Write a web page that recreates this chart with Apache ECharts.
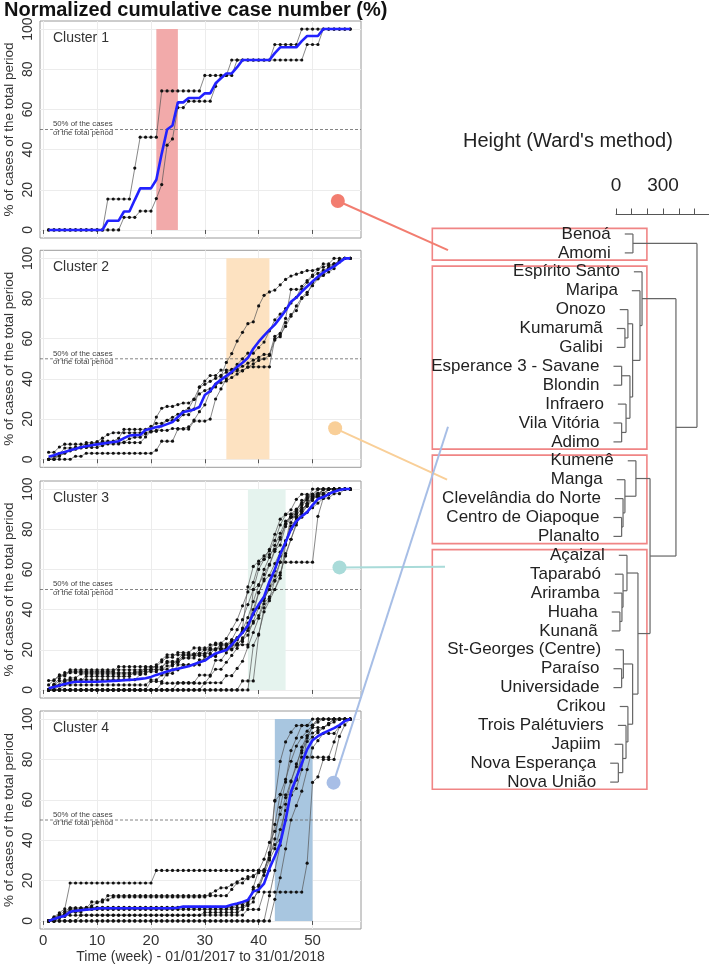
<!DOCTYPE html>
<html><head><meta charset="utf-8">
<script src="https://cdn.jsdelivr.net/npm/echarts@6/dist/echarts.min.js"></script>
<style>html,body{margin:0;padding:0;background:#fff}#c{width:709px;height:965px}</style>
</head><body><div id="c"></div>
<script>
const FONT = "'Liberation Sans', Arial, Helvetica, sans-serif";
const weeks = [1,2,3,4,5,6,7,8,9,10,11,12,13,14,15,16,17,18,19,20,21,22,23,24,25,26,27,28,29,30,31,32,33,34,35,36,37,38,39,40,41,42,43,44,45,46,47,48,49,50,51,52,53,54,55,56,57];
const xTicks = [0,10,20,30,40,50];
const yTicks = [0,20,40,60,80,100];
const scaleTicks = [0,100,200,300,400,500];
const scaleLabels = [0,300];

// ---- Cluster 1 ----
const c1_a = [0,0,0,0,0,0,0,0,0,0,
  0,15.4,15.4,15.4,15.4,15.4,30.8,46.2,46.2,46.2,
  46.2,69.2,69.2,69.2,69.2,69.2,69.2,69.2,69.2,76.9,
  76.9,76.9,76.9,76.9,84.6,84.6,84.6,84.6,84.6,84.6,
  84.6,84.6,92.3,92.3,92.3,92.3,92.3,100,100,100,
  100,100,100,100,100,100,100];
const c1_b = [0,0,0,0,0,0,0,0,0,0,
  0,0,0,0,6.3,6.3,6.3,9.4,9.4,9.4,
  15.6,22.6,42.2,45.3,60.9,60.9,64.1,64.1,64.1,64.1,
  64.1,71.5,76.9,76.9,76.9,84.6,84.6,84.6,84.6,84.6,
  84.6,84.6,84.6,84.6,84.6,84.6,84.6,84.6,92.3,92.3,
  92.3,100,100,100,100,100,100];
const c1_mean = [0,0,0,0,0,0,0,0,0,0,
  0,4.6,4.6,4.6,9.2,9.2,15,20.7,20.7,20.7,
  25,38,50,52,63.5,63.5,65.7,65.7,65.7,68,
  68,73,75.5,77.9,77.9,81,84.6,84.6,84.6,84.6,
  84.6,84.6,88,90.9,90.9,90.9,90.9,94,96.5,96.5,
  96.5,100,100,100,100,100,100];

// ---- Cluster 2 ----
const c2_l1 = [3.5,3.5,6.1,7.5,7.5,7.5,7.5,7.5,7.5,8.8,
  10.5,12.3,13.2,13.2,13.2,13.2,13.2,13.2,13.2,14,
  21,25.4,26.3,26.3,27.2,28,28,29.8,32.5,34.2,
  35.1,36,41.2,48.2,52.6,58.8,63.2,67.5,68.4,76.3,
  81.6,83.3,84.2,86.8,89.5,91.2,92.1,93,93.9,93.9,
  94.7,95.6,96.5,97.4,98.2,100,100];
const c2_l2 = [0,0,0,0,0,1.5,1.5,3,3,3,
  3,3,3,3,3,3,3,3,3,3,
  4.5,9,9,9,15,15,15,19,19,19,
  20,30,35,40,43,44,44,46,46,46,
  46,46,60,61,68,72,74,80,82,88,
  90,92,95,97,99,100,100];
const c2_l3 = [0,0,1.7,3.4,4.2,5,5.9,5.9,5.9,5.9,
  6.8,7.6,7.6,7.6,8.5,10.2,11,11,12.7,13.6,
  14.4,14.4,14.4,15.3,15.3,15.3,16.1,19.5,23.7,27.1,
  33.9,37.3,38.1,39,40.7,42.4,44.1,45.8,47.5,49.2,
  50,51.7,59.3,61.9,66.1,71.2,76.3,80.5,83.1,86.4,
  89.8,91.5,93.2,94.9,98.3,100,100];
const c2_l4 = [0,1.5,1.5,3,4.5,6,6,6,7.5,7.5,
  9,9,9,10.4,14.9,14.9,14.9,14.9,14.9,16.4,
  17.9,17.9,19.4,20.9,22.4,23.9,25.4,29.9,35.8,37.3,
  38.8,40.3,41.8,43.3,44.8,44.8,46.3,47.8,49.3,50.7,
  52.2,52.2,61.2,62.7,70.1,84.6,84.6,84.6,88.1,91,
  92.5,94,95.5,97,98.5,100,100];
const c2_l5 = [0,0,2.8,5.6,5.6,5.6,5.6,8.3,8.3,8.3,
  8.3,8.3,8.3,8.3,8.3,8.3,8.3,8.3,11.1,13.9,
  13.9,16.7,19.4,19.4,19.4,22.2,22.2,25,36.1,38.9,
  41.7,41.7,44.4,44.4,44.4,47.2,50,52.8,52.8,55.6,
  58.3,63.9,69.4,72.2,75,77.8,80.6,86.1,88.9,91.7,
  94.4,97.2,97.2,100,100,100,100];
const c2_mean = [1.3,2,3,3.6,4.5,5.2,6,6.5,7,7.4,
  7.8,8.2,8.6,9,10.5,11.8,12,12.1,14.6,15.2,
  16,16.5,17.5,18.5,21,23.5,24,24.8,26,32,
  34,37.5,39.5,41.5,43.5,46,48,50.5,55,58.5,
  61.5,64.4,67,70.5,74,78.4,80.5,83.4,86,88.5,
  90.9,93,94.5,96,98,100,100];

// ---- Cluster 3 ----
const c3_l1 = [4.7,4.7,7,7,9.3,9.3,9.3,9.3,9.3,9.3,
  9.3,9.3,9.3,11.6,11.6,11.6,11.6,11.6,11.6,11.6,
  11.6,14,16.3,16.3,18.6,18.6,18.6,20.9,20.9,20.9,
  20.9,23.3,23.3,25.6,30.2,34.9,41.9,48.8,53.5,62.8,
  65.1,67.4,69.8,72.1,81.4,86,86,86,88.4,90.7,
  93,95.3,97.7,100,100,100,100];
const c3_l2 = [0,0,0,0,0,0,0,0,0,0,
  0,0,0,0,0,0,0,0,0,0,
  0,0,0,0,0,0,0,0,0,0,
  0,0,0,0,0,0,4.5,4.5,4.5,27.3,
  40.9,45.5,54.5,63.6,72.7,86.4,86.4,90.9,95.5,95.5,
  100,100,100,100,100,100,100];
const c3_l3 = [0,0,0,0,0,0,0,0,0,0,
  0,0,0,0,0,0,0,0,0,0,
  0,3.4,3.4,3.4,3.4,3.4,3.4,3.4,3.4,3.4,
  6.9,10.3,10.3,13.8,17.2,20.7,24.1,31,37.9,48.3,
  55.2,62.1,69,75.9,82.8,86.2,89.7,93.1,96.6,96.6,
  96.6,100,100,100,100,100,100];
const c3_l4 = [0,2.3,4.5,4.5,4.5,4.5,4.5,6.8,6.8,6.8,
  6.8,6.8,6.8,6.8,6.8,6.8,9.1,9.1,9.1,9.1,
  9.1,11.4,13.6,13.6,13.6,15.9,15.9,15.9,18.2,18.2,
  18.2,20.5,20.5,20.5,22.7,22.7,25,27.3,34.1,40.9,
  45.5,50,56.8,63.6,63.6,63.6,63.6,63.6,63.6,63.6,
  86.4,95.5,95.5,97.7,97.7,100,100];
const c3_l5 = [0,0,0,2.5,2.5,2.5,2.5,2.5,2.5,2.5,
  2.5,2.5,2.5,2.5,2.5,2.5,2.5,2.5,2.5,5,
  5,7.5,7.5,10,10,12.5,12.5,12.5,15,15,
  17.5,17.5,20,20,20,22.5,22.5,22.5,50,52.5,
  57.5,62.5,70,75,82.5,87.5,90,92.5,95,97.5,
  97.5,100,100,100,100,100,100];
const c3_l6 = [2.5,5,7.5,7.5,10,10,10,10,10,10,
  10,10,10,10,10,10,10,10,10,10,
  12.5,15,17.5,17.5,17.5,17.5,17.5,17.5,20,20,
  22.5,22.5,22.5,22.5,25,30,35,42.5,50,60,
  65,70,77.5,85,87.5,87.5,87.5,90,92.5,95,
  97.5,97.5,100,100,100,100,100];
const c3_l7 = [0,0,0,0,0,0,0,0,0,0,
  0,0,0,0,0,0,0,0,0,0,
  0,0,0,0,0,0,0,0,0,3.6,
  3.6,3.6,3.6,7.1,7.1,10.7,14.3,21.4,28.6,35.7,
  42.9,46.4,50,57.1,67.9,75,82.1,89.3,92.9,96.4,
  96.4,100,100,100,100,100,100];
const c3_l8 = [0,0,2,4,6,6,8,8,8,8,
  8,8,8,8,8,8,8,8,8,10,
  10,10,12,12,14,16,16,18,18,20,
  20,20,22,22,24,26,30,36,44,52,
  60,66,72,78,84,86,88,92,96,96,
  98,98,100,100,100,100,100];
const c3_l9 = [0,0,0,0,0,0,0,0,0,0,
  0,0,0,0,0,0,0,0,0,0,
  0,0,0,0,3.7,3.7,3.7,3.7,7.4,7.4,
  7.4,14.8,14.8,18.5,22.2,22.2,25.9,29.6,33.3,37,
  44.4,51.9,59.3,66.7,74.1,81.5,85.2,88.9,92.6,96.3,
  96.3,96.3,100,100,100,100,100];
const c3_l10 = [0,2.6,2.6,5.1,5.1,5.1,5.1,5.1,5.1,5.1,
  5.1,5.1,5.1,5.1,5.1,5.1,5.1,7.7,10.3,10.3,
  10.3,10.3,10.3,12.8,15.4,17.9,17.9,17.9,17.9,17.9,
  20.5,20.5,20.5,20.5,20.5,23.1,30.8,51.3,61.5,64.1,
  66.7,69.2,74.4,82.1,87.2,89.7,94.9,97.4,97.4,97.4,
  100,100,100,100,100,100,100];
const c3_l11 = [0,0,0,0,0,0,0,0,0,0,
  0,0,0,0,0,0,0,0,0,0,
  0,0,0,0,0,0,0,0,0,0,
  0,0,0,0,0,0,0,0,22.2,27.8,
  38.9,44.4,50,55.6,72.2,83.3,88.9,94.4,94.4,100,
  100,100,100,100,100,100,100];
const c3_l12 = [0,2.9,5.7,8.6,8.6,8.6,8.6,8.6,8.6,8.6,
  8.6,8.6,8.6,8.6,8.6,8.6,8.6,8.6,11.4,11.4,
  11.4,11.4,14.3,14.3,14.3,17.1,17.1,17.1,17.1,17.1,
  20,20,22.9,22.9,22.9,25.7,28.6,31.4,40,48.6,
  54.3,57.1,62.9,68.6,74.3,80,85.7,88.6,91.4,94.3,
  97.1,97.1,97.1,100,100,100,100];
const c3_l13 = [0,0,0,0,0,0,0,0,0,0,
  0,0,0,0,0,0,0,0,0,4.2,
  4.2,4.2,8.3,8.3,12.5,12.5,12.5,12.5,12.5,16.7,
  16.7,16.7,20.8,20.8,25,25,29.2,33.3,37.5,41.7,
  45.8,50,54.2,58.3,66.7,75,83.3,87.5,91.7,95.8,
  95.8,100,100,100,100,100,100];
const c3_mean = [0.8,1.5,2.2,3,3.6,4.1,4.1,4.1,4.1,4.1,
  4.2,4.3,4.5,4.6,4.8,5,5.2,5.5,5.8,6.5,
  7.5,8.3,9.2,10,10.6,11.2,11.8,12.8,13.8,14.6,
  16.5,18.2,19,19.9,22.5,25.5,28.5,32,38.1,42.5,
  46.4,54,60,67.5,73.5,80,84,86.5,88.5,92,
  95,96,97.5,98.7,99.5,100,100];

// ---- Cluster 4 ----
const c4_l1 = [0,2,4,6,18.8,18.8,18.8,18.8,18.8,18.8,
  18.8,18.8,18.8,18.8,18.8,18.8,18.8,18.8,18.8,18.8,
  25,25,25,25,25,25,25,25,25,25,
  25,25,25,25,25,25,25,25,25,25,
  25,25,59.4,62.5,62.5,62.5,65.6,75,90.6,96.9,
  100,100,100,100,100,100,100];
const c4_l2 = [0,0,3.1,3.1,6.3,6.3,6.3,6.3,9.4,9.4,
  9.4,12.5,12.5,12.5,12.5,12.5,12.5,12.5,12.5,12.5,
  12.5,12.5,12.5,12.5,12.5,12.5,12.5,12.5,12.5,12.5,
  12.5,12.5,12.5,12.5,15.6,18.8,18.8,21.9,21.9,25,
  25,31.3,40.6,56.3,68.8,84.4,90.6,96.9,96.9,96.9,
  100,100,100,100,100,100,100];
const c4_l3 = [0,1.6,3.2,4.8,6.5,6.5,6.5,6.5,6.5,6.5,
  6.5,6.5,6.5,6.5,6.5,6.5,6.5,6.5,6.5,6.5,
  6.5,6.5,6.5,6.5,6.5,6.5,6.5,6.5,6.5,6.5,
  6.5,6.5,6.5,6.5,6.5,8.1,8.1,9.7,11.3,14.5,
  24.2,33.9,59.7,79,88.7,93.5,96.8,96.8,96.8,100,
  100,100,100,100,100,100,100];
const c4_l4 = [0,0,0,0,0,0,2.9,2.9,2.9,2.9,
  2.9,2.9,2.9,2.9,2.9,2.9,2.9,2.9,2.9,2.9,
  2.9,2.9,2.9,2.9,2.9,2.9,2.9,2.9,2.9,2.9,
  2.9,2.9,2.9,2.9,2.9,2.9,2.9,5.7,5.7,5.7,
  14.3,14.3,14.3,14.3,14.3,14.3,14.3,14.3,28.6,68.6,
  71.4,80,80,80,91.4,97.1,100];
const c4_l5 = [0,0,0,0,0,0,0,0,0,0,
  0,0,0,0,0,0,0,0,0,0,
  0,0,0,0,0,0,0,0,0,0,
  0,0,0,0,0,0,0,0,0,0,
  0,12.5,25,37.5,50,62.5,70.8,83.3,91.7,95.8,
  95.8,95.8,97.9,100,100,100,100];
const c4_l6 = [0,0,1.9,3.8,5.7,5.7,5.7,5.7,5.7,5.7,
  5.7,5.7,5.7,5.7,5.7,5.7,5.7,5.7,5.7,5.7,
  5.7,5.7,5.7,5.7,5.7,5.7,5.7,5.7,5.7,5.7,
  5.7,5.7,5.7,5.7,5.7,5.7,7.5,7.5,9.4,17,
  22.6,30.2,35.8,45.3,54.7,62.3,69.8,81.1,81.1,81.1,
  81.1,81.1,81.1,88.7,96.2,100,100];
const c4_l7 = [0,1.4,2.8,2.8,2.8,2.8,2.8,2.8,2.8,2.8,
  2.8,2.8,2.8,2.8,2.8,2.8,2.8,2.8,2.8,2.8,
  2.8,2.8,2.8,2.8,2.8,2.8,2.8,2.8,2.8,4.2,
  4.2,4.2,4.2,4.2,4.2,4.2,5.6,8.3,16.7,25,
  30.6,38.9,44.4,52.8,61.1,69.4,76.4,86.1,91.7,93.1,
  94.4,95.8,97.2,98.6,100,100,100];
const c4_l8 = [0,0,1.5,3,4.5,4.5,6,6,7.5,9,
  10.4,10.4,11.9,11.9,11.9,11.9,11.9,11.9,11.9,11.9,
  11.9,11.9,11.9,11.9,11.9,11.9,11.9,11.9,11.9,11.9,
  13.4,14.9,16.4,16.4,17.9,19.4,20.9,20.9,22.4,23.9,
  25.4,32.8,47.8,62.7,70.1,79.1,86.6,91,94,97,
  98.5,100,100,100,100,100,100];
const c4_l9 = [0,0,0,0,0,0,0,0,0,0,
  0,0,0,0,0,0,0,0,0,0,
  0,0,0,0,0,0,0,0,0,0,
  0,0,0,0,0,0,0,0,0,0,
  0,0,10.7,21.4,35.7,50,57.1,64.3,75,85.7,
  89.3,92.9,92.9,92.9,96.4,100,100];
const c4_l10 = [0,0,2.2,2.2,4.4,4.4,4.4,6.7,6.7,6.7,
  6.7,6.7,6.7,6.7,6.7,6.7,6.7,6.7,6.7,6.7,
  6.7,6.7,6.7,6.7,6.7,6.7,6.7,6.7,6.7,6.7,
  6.7,6.7,6.7,6.7,6.7,6.7,6.7,8.9,15.6,17.8,
  24.4,33.3,37.8,40,57.8,68.9,77.8,84.4,88.9,91.1,
  93.3,95.6,97.8,100,100,100,100];
const c4_mean = [0,1,1.8,2.5,4.5,5,5.3,5.6,5.8,6.2,
  6.3,6.3,6.3,6.3,6.3,6.3,6.3,6.3,6.3,6.3,
  6.3,6.3,6.3,6.3,6.5,7.1,7.1,7.1,7.1,7.1,
  7.1,7.1,7.1,7.1,8,8.6,9.4,10.4,14.5,15.5,
  18.5,26,32,38.4,50,64,71,78,85,89.5,
  91.5,93,94.3,95.5,97,99,100];

const clusterLines = [
  [c1_a, c1_b],
  [c2_l1, c2_l2, c2_l3, c2_l4, c2_l5],
  [c3_l1, c3_l2, c3_l3, c3_l4, c3_l5, c3_l6, c3_l7, c3_l8, c3_l9, c3_l10, c3_l11, c3_l12, c3_l13],
  [c4_l1, c4_l2, c4_l3, c4_l4, c4_l5, c4_l6, c4_l7, c4_l8, c4_l9, c4_l10]
];
const clusterMeans = [c1_mean, c2_mean, c3_mean, c4_mean];
const clusterNames = ['Cluster 1','Cluster 2','Cluster 3','Cluster 4'];
const winStart = [21, 34, 38, 43];
const winEnd = [25, 42, 45, 50];

// ---- Dendrogram ----
const leafNames = ['Benoá','Amomi','Espírito Santo','Maripa','Onozo','Kumarumã','Galibi','Esperance 3 - Savane','Blondin','Infraero','Vila Vitória','Adimo','Kumenê','Manga','Clevelândia do Norte','Centro de Oiapoque','Planalto','Açaizal','Taparabó','Ariramba','Huaha','Kunanã','St-Georges (Centre)','Paraíso','Universidade','Crikou','Trois Palétuviers','Japiim','Nova Esperança','Nova União'];
const mergeA = [-6,-5,-8,-11,-10,3,2,-4,-3,-1,-16,-15,-14,-13,-21,-20,-19,-18,-24,-23,-29,-28,-27,-26,20,18,14,9,10];
const mergeB = [-7,1,-9,-12,4,5,6,7,8,-2,-17,11,12,13,-22,15,16,17,-25,19,-30,21,22,23,24,25,26,27,28];
const mergeH = [57,76,36,36,64,89,106,153,166,108,36,45,57,127,25,38,45,70,36,47,15,43,64,76,106,140,217,382,516];
const boxFirst = [1, 3, 13, 18];
const boxLast = [2, 12, 17, 30];

// ---- Styling ----
const winColors = ['#f2aaaa', '#fde2c1', '#e5f3ee', '#a8c6e0'];
const dotColors = ['#f27d70', '#f9cf98', '#a9dbd9', '#a7bee6'];
const circlePos = [[54.7, 14.4], [54.2, 15.4], [55, 61], [53.9, 68.5]];
const endPos = [[-1070, 1.85], [-1076, 14.0], [-1089, 18.6], [-1070, 11.2]];
const panelTop = [21, 250.3, 481, 711];
const panelH = [217, 217, 217, 218];
const hang = 52;

// dendrogram geometry from merges
const nodeY = [], segs = [], leafStart = new Array(leafNames.length);
function childInfo(c, h) {
  if (c < 0) { const i = -c; leafStart[i - 1] = h - hang; return { y: i, x: h - hang }; }
  return { y: nodeY[c - 1], x: mergeH[c - 1] };
}
for (let k = 0; k < mergeH.length; k++) {
  const h = mergeH[k];
  const a = childInfo(mergeA[k], h), b = childInfo(mergeB[k], h);
  nodeY[k] = (a.y + b.y) / 2;
  segs.push([a.x, a.y, h, a.y], [b.x, b.y, h, b.y], [h, a.y, h, b.y]);
}

const grids = [], xAxes = [], yAxes = [], series = [];
for (let i = 0; i < 4; i++) {
  grids.push({ left: 40, width: 321, top: panelTop[i], height: panelH[i], show: true, borderColor: '#9a9a9a', borderWidth: 1 });
  xAxes.push({
    type: 'value', gridIndex: i, min: -0.6, max: 59,
    axisLine: { show: false },
    axisTick: { show: true, length: 4, inside: false, lineStyle: { color: '#555' }, customValues: xTicks },
    axisLabel: { show: i === 3, customValues: xTicks, fontSize: 15, color: '#333', margin: 4, fontFamily: FONT },
    splitLine: { show: true, lineStyle: { color: '#ececec', width: 1 } },
    name: i === 3 ? 'Time (week) - 01/01/2017 to 31/01/2018' : '',
    nameLocation: 'middle', nameGap: 21,
    nameTextStyle: { fontSize: 14, color: '#333', fontFamily: FONT }
  });
  yAxes.push({
    type: 'value', gridIndex: i, min: -4, max: 104,
    axisLine: { show: false },
    axisTick: { show: false, customValues: yTicks },
    axisLabel: { customValues: yTicks, rotate: 90, fontSize: 14, color: '#333', margin: 5, fontFamily: FONT },
    splitLine: { show: true, lineStyle: { color: '#ececec', width: 1 } },
    name: '% of cases of the total period', nameLocation: 'middle', nameGap: 24,
    nameTextStyle: { fontSize: 13.5, color: '#333', fontFamily: FONT }
  });
  const ci = i;
  series.push({
    type: 'custom', xAxisIndex: i, yAxisIndex: i, z: 1, silent: true,
    data: [[winStart[i], winEnd[i]]],
    renderItem: function (params, api) {
      const tl = api.coord([api.value(0), 100]), br = api.coord([api.value(1), 0]);
      const la = api.coord([-0.6, 50]), lb = api.coord([59, 50]);
      const lab = api.coord([1.8, 95.5]), ann = api.coord([1.8, 50]);
      return { type: 'group', children: [
        { type: 'rect', shape: { x: tl[0], y: tl[1], width: br[0] - tl[0], height: br[1] - tl[1] }, style: { fill: winColors[ci] } },
        { type: 'line', shape: { x1: la[0], y1: la[1], x2: lb[0], y2: lb[1] }, style: { stroke: '#666', lineWidth: 0.8, lineDash: [3, 2] } },
        { type: 'text', style: { text: clusterNames[ci], x: lab[0], y: lab[1], fill: '#333', fontSize: 14, fontFamily: FONT, align: 'left', verticalAlign: 'middle' } },
        { type: 'text', style: { text: '50% of the cases', x: ann[0], y: ann[1] - 5.3, fill: '#444', fontSize: 7.8, fontFamily: FONT, align: 'left', verticalAlign: 'middle' } },
        { type: 'text', style: { text: 'of the total period', x: ann[0], y: ann[1] + 3, fill: '#444', fontSize: 7.8, fontFamily: FONT, align: 'left', verticalAlign: 'middle' } }
      ] };
    }
  });
  clusterLines[i].forEach(function (arr) {
    series.push({
      type: 'line', xAxisIndex: i, yAxisIndex: i, z: 2, silent: true,
      data: weeks.map((w, k) => [w, arr[k]]),
      symbol: 'circle', symbolSize: 3.2, showSymbol: true,
      lineStyle: { color: '#555', width: 0.7 },
      itemStyle: { color: '#111' }
    });
  });
  series.push({
    type: 'line', xAxisIndex: i, yAxisIndex: i, z: 3, silent: true,
    data: weeks.map((w, k) => [w, clusterMeans[i][k]]),
    showSymbol: false, symbol: 'none',
    lineStyle: { color: '#2222ff', width: 2.6 }
  });
}

// dendrogram grid (index 4)
grids.push({ left: 427.6, width: 281, top: 215.1, height: 585.9, show: false });
xAxes.push({ type: 'value', gridIndex: 4, min: -1200, max: 590, show: false });
yAxes.push({ type: 'value', gridIndex: 4, min: 0, max: 31, inverse: true, show: false });
// scale grid (index 5)
grids.push({ left: 616, width: 92.6, top: 212.5, height: 2, show: false });
xAxes.push({
  type: 'value', gridIndex: 5, min: 0, max: 590, position: 'top',
  axisLine: { show: true, lineStyle: { color: '#555', width: 1 } },
  axisTick: { show: true, length: 6, inside: false, customValues: scaleTicks, lineStyle: { color: '#555' } },
  axisLabel: { customValues: scaleLabels, fontSize: 19, color: '#222', margin: 17, fontFamily: FONT },
  splitLine: { show: false }
});
yAxes.push({ type: 'value', gridIndex: 5, show: false });

series.push({
  type: 'custom', xAxisIndex: 4, yAxisIndex: 4, silent: true, z: 2,
  data: segs,
  renderItem: function (params, api) {
    const s = api.coord([api.value(0), api.value(1)]), e = api.coord([api.value(2), api.value(3)]);
    return { type: 'line', shape: { x1: s[0], y1: s[1], x2: e[0], y2: e[1] }, style: { stroke: '#666', lineWidth: 1.2 } };
  }
});
series.push({
  type: 'custom', xAxisIndex: 4, yAxisIndex: 4, silent: true, z: 2,
  data: leafNames.map((n, i) => [leafStart[i], i + 1]),
  renderItem: function (params, api) {
    const p = api.coord([api.value(0), api.value(1)]);
    return { type: 'text', style: { text: leafNames[params.dataIndex], x: p[0] - 14, y: p[1], fill: '#222', fontSize: 17, fontFamily: FONT, align: 'right', verticalAlign: 'middle' } };
  }
});
series.push({
  type: 'custom', xAxisIndex: 4, yAxisIndex: 4, silent: true, z: 1,
  data: boxFirst.map((f, i) => [-1170, f - 0.3, 197, boxLast[i] + 0.38]),
  renderItem: function (params, api) {
    const a = api.coord([api.value(0), api.value(1)]), b = api.coord([api.value(2), api.value(3)]);
    return { type: 'rect', shape: { x: a[0], y: a[1], width: b[0] - a[0], height: b[1] - a[1] }, style: { fill: 'none', stroke: '#f08585', lineWidth: 1.6 } };
  }
});

const chart = echarts.init(document.getElementById('c'), null, { renderer: 'canvas' });
chart.setOption({
  animation: false,
  backgroundColor: '#fff',
  textStyle: { fontFamily: FONT },
  title: [
    { text: 'Normalized cumulative case number (%)', left: 4, top: 0, padding: 0, textStyle: { fontSize: 20, fontWeight: 'bold', color: '#111', fontFamily: FONT } },
    { text: "Height (Ward's method)", left: 463, top: 131, padding: 0, textStyle: { fontSize: 20, fontWeight: 'normal', color: '#222', fontFamily: FONT } }
  ],
  grid: grids, xAxis: xAxes, yAxis: yAxes, series: series
});

// connectors: from circle in each panel to its cluster box in the dendrogram
const gfx = [];
for (let i = 0; i < 4; i++) {
  const c = chart.convertToPixel({ gridIndex: i }, circlePos[i]);
  const e = chart.convertToPixel({ gridIndex: 4 }, endPos[i]);
  gfx.push({ type: 'line', z: 50, shape: { x1: c[0], y1: c[1], x2: e[0], y2: e[1] }, style: { stroke: dotColors[i], lineWidth: 2 } });
  gfx.push({ type: 'circle', z: 51, shape: { cx: c[0], cy: c[1], r: 7 }, style: { fill: dotColors[i] } });
}
chart.setOption({ graphic: gfx });
</script>
</body></html>
